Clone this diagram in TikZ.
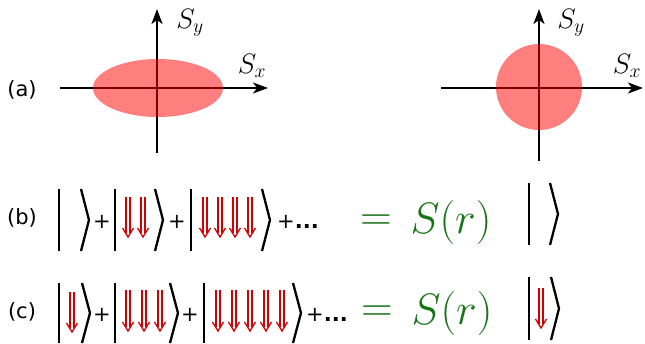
\RequirePackage{fix-cm}
\documentclass[tikz,border=0pt]{standalone}
\usepackage{fontspec}
\newfontfamily\lbl{DejaVu Sans}
\newfontfamily\lblb{DejaVu Sans Bold}
\usetikzlibrary{arrows.meta}
\definecolor{sgreen}{RGB}{25,115,25}
\definecolor{arred}{RGB}{210,0,0}
\newcommand\dnarr[3]{% x, top, bottom
  \draw[darrow] (#1-2,#2) -- (#1-2,#3-4) (#1+2,#2) -- (#1+2,#3-4);
  \draw[darrow,line join=miter] (#1-5.5,#3-9) -- (#1,#3) -- (#1+5.5,#3-9);}
\newcommand\ketshape[4]{% barx, angx, top, bottom
  \draw[ketline] (#1,#3) -- (#1,#4);
  \draw[ketline,line join=miter] (#2,#3) -- (#2+8,{(#3+#4)/2}) -- (#2,#4);}
\begin{document}
\begin{tikzpicture}[x=1pt,y=-1pt,
  axis/.style={line width=2pt,-{Stealth[length=15pt,width=11pt,inset=4pt]}},
  blob/.style={fill=red,fill opacity=0.5,draw=none},
  ketline/.style={line width=2.3pt,line cap=butt},
  sp/.style={font=\lbl\fontsize{21}{25}\selectfont,inner sep=0},
  axlab/.style={font=\fontsize{28}{32}\selectfont,inner sep=0},
  srl/.style={font=\fontsize{44}{50}\selectfont,text=sgreen,inner sep=0},
  darrow/.style={draw=arred,line width=1.3pt}]
\useasboundingbox (0,0) rectangle (645,343);
% ---- panel (a), left
\coordinate (a1w) at (60,88);  \coordinate (a1e) at (268,88);
\coordinate (a1s) at (157,153); \coordinate (a1n) at (157,9);
\draw[axis] (a1w) -- (a1e);
\draw[axis] (a1s) -- (a1n);
\fill[blob] (158,88) ellipse [x radius=65, y radius=29];
\node[axlab] (sya) at (190,23) {$S_y$};
\node[axlab] (sxa) at (252,66) {$S_x$};
% ---- panel (a), right
\coordinate (a2w) at (441,88);  \coordinate (a2e) at (643,88);
\coordinate (a2s) at (539,161); \coordinate (a2n) at (539,9);
\draw[axis] (a2w) -- (a2e);
\draw[axis] (a2s) -- (a2n);
\fill[blob] (539,87) circle [radius=43];
\node[axlab] (syb) at (571,23) {$S_y$};
\node[axlab] (sxb) at (627,66) {$S_x$};
% ---- labels
\node[sp] (la) at (22,90) {(a)};
\node[sp] (lb) at (22,218) {(b)};
\node[sp] (lc) at (22,312) {(c)};
% ---- row (b)
\ketshape{59}{81}{189}{251}
\node[sp] (pb1) at (102,222) {+};
\ketshape{115}{155}{189}{251}
\dnarr{128}{197}{237}\dnarr{143}{197}{237}
\node[sp] (pb2) at (177,222) {+};
\ketshape{191}{262}{189}{251}
\dnarr{205}{197}{237}\dnarr{220}{197}{237}\dnarr{235}{197}{237}\dnarr{250}{197}{237}
\node[sp,anchor=west] (pb3) at (277,222) {+{\lblb...}};
\node[srl] (eqb) at (376,223) {$=$};
\node[srl] (srb) at (451,222) {$S(r)$};
\ketshape{529}{550}{183}{245}
% ---- row (c)
\ketshape{59}{82}{283}{343}
\dnarr{72}{292}{332}
\node[sp] (pc1) at (102,315) {+};
\ketshape{115}{170}{283}{343}
\dnarr{128}{290}{331}\dnarr{144}{290}{331}\dnarr{160}{290}{331}
\node[sp] (pc2) at (190,315) {+};
\ketshape{204}{293}{283}{343}
\dnarr{218}{290}{331}\dnarr{234}{290}{331}\dnarr{250}{290}{331}\dnarr{266}{290}{331}\dnarr{282}{290}{331}
\node[sp,anchor=west] (pc3) at (306,315) {+{\lblb...}};
\node[srl] (eqc) at (377,314) {$=$};
\node[srl] (src) at (452,313) {$S(r)$};
\ketshape{529}{551}{277}{340}
\dnarr{541}{288}{328}
\end{tikzpicture}
\end{document}
